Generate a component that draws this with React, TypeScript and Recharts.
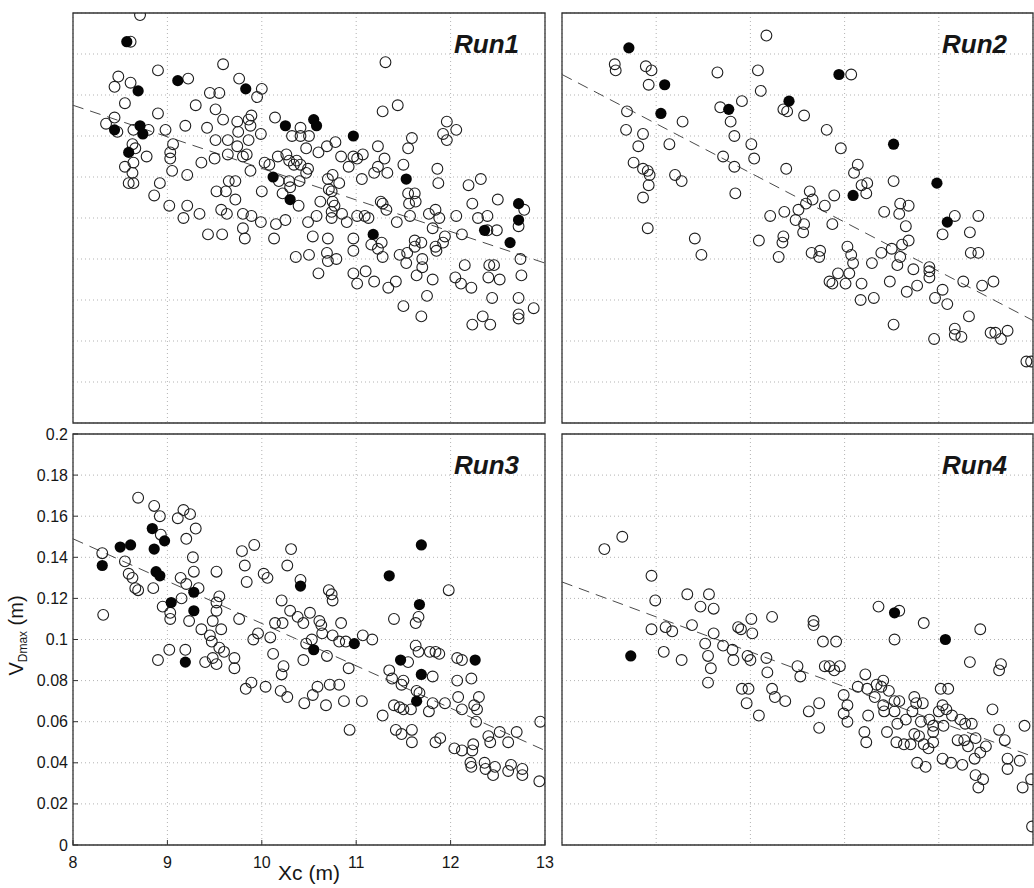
import { ScatterChart, Scatter, XAxis, YAxis, CartesianGrid, ReferenceLine, ReferenceArea } from 'recharts'

type Pt = [number, number]

const xTicks = [8, 9, 10, 11, 12, 13]
const yTicks = [0, 0.02, 0.04, 0.06, 0.08, 0.1, 0.12, 0.14, 0.16, 0.18, 0.2]

// Run1
const run1Open: Pt[] = [
  [8.71, 0.199], [8.61, 0.186], [9.59, 0.175], [11.31, 0.176], [8.9, 0.172], [8.48, 0.169], [8.44, 0.164], [8.61, 0.166],
  [9.22, 0.168], [9.76, 0.168], [10.0, 0.163], [9.95, 0.159], [9.45, 0.161], [9.55, 0.161], [8.55, 0.156], [9.3, 0.155],
  [9.51, 0.153], [9.59, 0.148], [8.9, 0.151], [11.28, 0.152], [11.44, 0.155], [8.44, 0.149], [8.35, 0.146], [8.47, 0.142],
  [8.64, 0.143], [8.8, 0.143], [8.98, 0.143], [9.19, 0.145], [9.42, 0.144], [9.51, 0.138], [9.74, 0.147], [9.75, 0.142],
  [9.86, 0.148], [9.89, 0.15], [9.88, 0.145], [9.86, 0.138], [9.64, 0.138], [9.74, 0.135], [9.99, 0.141], [10.14, 0.149],
  [10.32, 0.14], [10.41, 0.14], [10.41, 0.144], [10.5, 0.14], [10.47, 0.134], [10.6, 0.132], [10.69, 0.135], [10.78, 0.137],
  [10.84, 0.13], [10.97, 0.13], [11.07, 0.131], [11.01, 0.129], [11.23, 0.135], [11.3, 0.129], [11.59, 0.139], [11.55, 0.134],
  [11.96, 0.147], [12.06, 0.143], [11.92, 0.141], [11.96, 0.138], [11.5, 0.126], [11.86, 0.124], [11.87, 0.117], [12.19, 0.116],
  [12.32, 0.119], [12.5, 0.109], [12.78, 0.104], [12.72, 0.096], [12.39, 0.094], [12.49, 0.094], [12.74, 0.08], [12.75, 0.072],
  [12.72, 0.061], [12.72, 0.053], [12.72, 0.051], [12.88, 0.056], [12.23, 0.048], [12.34, 0.052], [12.42, 0.048], [12.44, 0.061],
  [12.4, 0.071], [12.52, 0.07], [12.46, 0.077], [12.41, 0.077], [12.15, 0.077], [12.05, 0.071], [12.11, 0.068], [12.22, 0.066],
  [12.12, 0.092], [12.23, 0.107], [12.06, 0.101], [12.29, 0.1], [12.39, 0.101], [11.81, 0.095], [11.84, 0.104], [11.88, 0.1],
  [11.77, 0.102], [11.94, 0.091], [11.92, 0.088], [11.84, 0.086], [11.85, 0.084], [11.62, 0.089], [11.69, 0.088], [11.62, 0.086],
  [11.54, 0.083], [11.46, 0.082], [11.7, 0.08], [11.7, 0.076], [11.64, 0.072], [11.53, 0.078], [11.81, 0.07], [11.75, 0.062],
  [11.69, 0.052], [11.5, 0.057], [11.42, 0.069], [11.34, 0.066], [11.56, 0.107], [11.62, 0.112], [11.55, 0.112], [11.63, 0.108],
  [11.57, 0.101], [11.43, 0.098], [11.28, 0.081], [11.23, 0.085], [11.16, 0.087], [11.27, 0.088], [11.19, 0.069], [11.1, 0.074],
  [11.01, 0.068], [10.97, 0.073], [10.97, 0.084], [10.97, 0.09], [11.09, 0.101], [11.13, 0.1], [11.01, 0.101], [10.9, 0.098],
  [11.26, 0.108], [11.28, 0.107], [11.32, 0.104], [11.19, 0.122], [11.23, 0.125], [11.33, 0.122], [11.06, 0.119], [10.92, 0.125],
  [10.75, 0.121], [10.7, 0.119], [10.82, 0.117], [10.71, 0.114], [10.74, 0.113], [10.75, 0.108], [10.77, 0.106], [10.74, 0.103],
  [10.74, 0.1], [10.85, 0.102], [10.62, 0.108], [10.58, 0.101], [10.49, 0.098], [10.54, 0.091], [10.7, 0.09], [10.79, 0.08],
  [10.69, 0.083], [10.7, 0.079], [10.6, 0.073], [10.5, 0.082], [10.36, 0.081], [10.39, 0.106], [10.22, 0.112], [10.18, 0.118],
  [10.29, 0.118], [10.3, 0.115], [10.4, 0.118], [10.47, 0.122], [10.49, 0.124], [10.41, 0.126], [10.34, 0.126], [10.26, 0.131],
  [10.17, 0.13], [10.03, 0.127], [10.08, 0.126], [10.29, 0.128], [10.37, 0.128], [10.25, 0.099], [10.15, 0.097], [10.13, 0.09],
  [9.99, 0.098], [10.0, 0.113], [9.88, 0.123], [9.84, 0.131], [9.8, 0.13], [9.64, 0.131], [9.5, 0.129], [9.36, 0.127],
  [9.21, 0.121], [9.05, 0.123], [9.03, 0.132], [9.03, 0.129], [9.06, 0.136], [8.92, 0.117], [8.86, 0.111], [9.02, 0.106],
  [9.21, 0.106], [9.17, 0.1], [9.34, 0.102], [9.52, 0.113], [9.62, 0.113], [9.65, 0.118], [9.72, 0.118], [9.72, 0.109],
  [9.57, 0.104], [9.63, 0.102], [9.8, 0.102], [9.89, 0.101], [9.8, 0.095], [9.82, 0.09], [9.43, 0.092], [9.58, 0.092],
  [8.66, 0.134], [8.63, 0.136], [8.78, 0.13], [8.64, 0.127], [8.55, 0.125], [8.63, 0.122], [8.59, 0.117], [8.64, 0.117],
]
const run1Filled: Pt[] = [
  [8.57, 0.186], [8.69, 0.162], [9.11, 0.167], [9.83, 0.163], [8.44, 0.143], [8.71, 0.145], [8.74, 0.141], [8.59, 0.132],
  [10.25, 0.145], [10.55, 0.148], [10.58, 0.145], [10.97, 0.14], [10.12, 0.12], [10.3, 0.109], [11.53, 0.119], [11.18, 0.092],
  [12.36, 0.094], [12.72, 0.107], [12.72, 0.099], [12.63, 0.088],
]
const run1Trend: Pt[] = [[8, 0.155], [13, 0.078]]

// Run2
const run2Open: Pt[] = [
  [10.17, 0.189], [8.56, 0.175], [8.57, 0.172], [8.89, 0.174], [8.95, 0.172], [8.92, 0.165], [8.69, 0.152], [8.68, 0.143],
  [8.86, 0.141], [8.81, 0.135], [9.14, 0.136], [9.28, 0.147], [8.76, 0.127], [8.86, 0.124], [8.91, 0.123], [8.93, 0.121],
  [8.92, 0.116], [8.86, 0.11], [9.2, 0.121], [9.27, 0.118], [8.91, 0.095], [9.41, 0.09], [9.48, 0.082], [9.65, 0.171],
  [10.08, 0.172], [10.11, 0.162], [9.91, 0.157], [9.68, 0.154], [9.79, 0.147], [9.83, 0.14], [9.71, 0.13], [9.83, 0.125],
  [9.84, 0.112], [10.01, 0.136], [10.04, 0.129], [10.35, 0.153], [10.39, 0.152], [10.57, 0.15], [10.38, 0.124], [10.21, 0.101],
  [10.36, 0.103], [10.09, 0.089], [10.35, 0.091], [10.34, 0.088], [10.3, 0.081], [10.48, 0.099], [10.51, 0.104], [10.57, 0.097],
  [10.56, 0.093], [10.59, 0.107], [10.63, 0.113], [10.66, 0.109], [10.79, 0.106], [10.65, 0.083], [10.74, 0.084], [10.73, 0.081],
  [10.81, 0.143], [11.07, 0.17], [10.96, 0.134], [10.89, 0.111], [10.87, 0.097], [11.14, 0.126], [11.1, 0.122], [11.18, 0.116],
  [11.24, 0.117], [11.23, 0.112], [11.03, 0.086], [11.07, 0.082], [11.09, 0.078], [11.05, 0.073], [10.93, 0.073], [10.84, 0.069],
  [10.87, 0.068], [11.01, 0.068], [11.18, 0.068], [11.17, 0.06], [11.31, 0.061], [11.29, 0.078], [11.39, 0.083], [11.42, 0.103],
  [11.52, 0.118], [11.59, 0.107], [11.68, 0.106], [11.58, 0.102], [11.65, 0.096], [11.68, 0.089], [11.61, 0.087], [11.5, 0.085],
  [11.59, 0.081], [11.56, 0.077], [11.73, 0.075], [11.48, 0.069], [11.66, 0.064], [11.77, 0.067], [11.52, 0.048], [12.17, 0.101],
  [12.42, 0.101], [12.04, 0.092], [12.33, 0.093], [12.34, 0.083], [12.42, 0.083], [11.9, 0.076], [11.9, 0.074], [11.9, 0.071],
  [12.04, 0.065], [11.96, 0.061], [12.09, 0.058], [12.26, 0.069], [12.46, 0.067], [12.58, 0.069], [12.32, 0.052], [12.17, 0.046],
  [12.17, 0.043], [12.24, 0.042], [11.95, 0.041], [12.55, 0.044], [12.6, 0.044], [12.73, 0.045], [12.66, 0.041], [12.93, 0.03],
  [12.98, 0.03],
]
const run2Filled: Pt[] = [
  [8.71, 0.183], [9.09, 0.165], [9.05, 0.151], [9.77, 0.153], [10.41, 0.157], [10.94, 0.17], [11.09, 0.111], [11.52, 0.136],
  [11.98, 0.117], [12.09, 0.098],
]
const run2Trend: Pt[] = [[8, 0.17], [13, 0.05]]

// Run3
const run3Open: Pt[] = [
  [8.69, 0.169], [8.86, 0.165], [8.92, 0.16], [9.17, 0.163], [9.24, 0.161], [9.11, 0.159], [9.2, 0.149], [9.3, 0.154],
  [8.93, 0.151], [8.31, 0.142], [8.55, 0.138], [8.59, 0.132], [8.63, 0.13], [8.66, 0.125], [8.69, 0.124], [8.85, 0.125],
  [8.32, 0.112], [9.14, 0.13], [9.2, 0.127], [9.27, 0.14], [9.28, 0.133], [9.33, 0.125], [9.15, 0.12], [8.95, 0.116],
  [9.03, 0.113], [9.03, 0.11], [9.23, 0.109], [9.52, 0.133], [9.55, 0.121], [9.52, 0.118], [9.52, 0.114], [9.48, 0.109],
  [9.57, 0.105], [9.36, 0.105], [9.45, 0.102], [9.47, 0.099], [9.55, 0.096], [9.6, 0.094], [9.48, 0.091], [9.52, 0.088],
  [9.4, 0.089], [9.02, 0.095], [9.19, 0.095], [8.9, 0.09], [9.71, 0.091], [9.71, 0.086], [9.76, 0.11], [9.79, 0.143],
  [9.82, 0.136], [9.84, 0.128], [9.92, 0.146], [10.02, 0.132], [10.06, 0.13], [9.96, 0.103], [9.91, 0.1], [10.09, 0.101],
  [10.12, 0.093], [10.23, 0.087], [10.21, 0.083], [10.14, 0.108], [10.22, 0.108], [10.21, 0.119], [10.27, 0.136], [10.31, 0.144],
  [10.3, 0.114], [10.38, 0.111], [10.41, 0.129], [10.44, 0.108], [10.51, 0.113], [10.47, 0.098], [10.53, 0.1], [10.44, 0.09],
  [10.61, 0.109], [10.63, 0.107], [10.64, 0.103], [10.71, 0.124], [10.74, 0.122], [10.75, 0.119], [10.75, 0.102], [10.69, 0.092],
  [10.84, 0.108], [10.82, 0.099], [10.89, 0.099], [11.07, 0.102], [11.17, 0.1], [10.92, 0.086], [10.59, 0.077], [10.72, 0.078],
  [10.82, 0.078], [10.54, 0.073], [10.45, 0.069], [10.68, 0.068], [10.27, 0.072], [10.2, 0.075], [10.04, 0.077], [9.89, 0.079],
  [9.83, 0.076], [10.87, 0.07], [11.06, 0.07], [10.93, 0.056], [11.28, 0.063], [11.35, 0.085], [11.38, 0.081], [11.4, 0.11],
  [11.4, 0.068], [11.46, 0.067], [11.5, 0.066], [11.48, 0.078], [11.5, 0.08], [11.55, 0.089], [11.42, 0.056], [11.48, 0.054],
  [11.58, 0.066], [11.59, 0.056], [11.59, 0.05], [11.63, 0.097], [11.66, 0.094], [11.63, 0.108], [11.66, 0.111], [11.64, 0.075],
  [11.67, 0.074], [11.77, 0.065], [11.81, 0.069], [11.81, 0.082], [11.78, 0.094], [11.84, 0.094], [11.88, 0.093], [11.84, 0.05],
  [11.89, 0.052], [11.94, 0.069], [11.98, 0.124], [12.07, 0.091], [12.12, 0.09], [12.07, 0.08], [12.08, 0.072], [12.12, 0.066],
  [12.22, 0.081], [12.25, 0.068], [12.28, 0.066], [12.3, 0.072], [12.27, 0.06], [12.04, 0.047], [12.12, 0.046], [12.23, 0.046],
  [12.24, 0.049], [12.21, 0.04], [12.22, 0.038], [12.36, 0.04], [12.37, 0.037], [12.45, 0.034], [12.4, 0.053], [12.42, 0.05],
  [12.52, 0.055], [12.47, 0.038], [12.61, 0.05], [12.7, 0.055], [12.61, 0.036], [12.64, 0.039], [12.76, 0.037], [12.76, 0.034],
  [12.94, 0.031], [12.95, 0.06],
]
const run3Filled: Pt[] = [
  [8.84, 0.154], [8.97, 0.148], [8.86, 0.144], [8.5, 0.145], [8.61, 0.146], [8.31, 0.136], [8.88, 0.133], [8.92, 0.131],
  [9.28, 0.123], [9.04, 0.118], [9.28, 0.114], [9.19, 0.089], [10.41, 0.126], [10.55, 0.095], [10.98, 0.098], [11.35, 0.131],
  [11.47, 0.09], [11.67, 0.117], [11.69, 0.146], [11.69, 0.083], [11.64, 0.07], [12.26, 0.09],
]
const run3Trend: Pt[] = [[8, 0.149], [13, 0.046]]

// Run4
const run4Open: Pt[] = [
  [8.45, 0.144], [8.64, 0.15], [8.95, 0.131], [8.99, 0.119], [8.95, 0.105], [9.1, 0.106], [9.17, 0.104], [9.08, 0.094],
  [9.27, 0.09], [9.33, 0.122], [9.56, 0.122], [9.47, 0.116], [9.61, 0.115], [9.38, 0.107], [9.61, 0.103], [9.52, 0.098],
  [9.55, 0.092], [9.58, 0.086], [9.55, 0.079], [9.71, 0.097], [9.81, 0.095], [9.82, 0.09], [9.87, 0.106], [9.9, 0.105],
  [10.01, 0.11], [10.02, 0.103], [9.97, 0.092], [10.0, 0.09], [10.23, 0.111], [10.17, 0.091], [10.18, 0.084], [9.91, 0.076],
  [9.98, 0.076], [9.96, 0.069], [10.09, 0.063], [10.23, 0.076], [10.26, 0.072], [10.37, 0.07], [10.5, 0.087], [10.53, 0.082],
  [10.62, 0.065], [10.73, 0.069], [10.73, 0.057], [10.67, 0.109], [10.67, 0.107], [10.77, 0.099], [10.91, 0.099], [10.79, 0.087],
  [10.84, 0.087], [10.89, 0.085], [10.95, 0.087], [10.99, 0.073], [11.03, 0.068], [10.99, 0.064], [11.03, 0.06], [11.22, 0.083],
  [11.14, 0.077], [11.24, 0.076], [11.32, 0.072], [11.34, 0.078], [11.41, 0.08], [11.39, 0.077], [11.25, 0.063], [11.21, 0.055],
  [11.23, 0.05], [11.36, 0.116], [11.58, 0.114], [11.53, 0.1], [11.84, 0.108], [12.44, 0.105], [12.33, 0.089], [12.66, 0.088],
  [12.64, 0.085], [11.47, 0.075], [11.53, 0.07], [11.58, 0.07], [11.41, 0.068], [11.42, 0.065], [11.53, 0.065], [11.45, 0.055],
  [11.56, 0.059], [11.55, 0.05], [11.63, 0.049], [11.7, 0.049], [11.65, 0.061], [11.74, 0.072], [11.76, 0.069], [11.83, 0.069],
  [11.72, 0.065], [11.81, 0.06], [11.74, 0.054], [11.79, 0.053], [11.84, 0.049], [11.89, 0.047], [11.77, 0.04], [11.86, 0.038],
  [11.9, 0.061], [11.94, 0.058], [11.94, 0.055], [11.94, 0.05], [12.0, 0.065], [12.04, 0.068], [12.02, 0.076], [12.1, 0.076],
  [12.08, 0.066], [12.14, 0.063], [12.05, 0.058], [12.23, 0.061], [12.28, 0.059], [12.35, 0.059], [12.04, 0.042], [12.13, 0.04],
  [12.25, 0.039], [12.2, 0.051], [12.27, 0.051], [12.31, 0.048], [12.39, 0.052], [12.44, 0.045], [12.38, 0.042], [12.5, 0.048],
  [12.57, 0.066], [12.64, 0.056], [12.7, 0.051], [12.39, 0.034], [12.47, 0.032], [12.42, 0.028], [12.73, 0.042], [12.73, 0.037],
  [12.86, 0.041], [12.91, 0.058], [12.89, 0.028], [12.98, 0.032], [12.99, 0.009],
]
const run4Filled: Pt[] = [[8.73, 0.092], [11.53, 0.113], [12.07, 0.1]]
const run4Trend: Pt[] = [[8, 0.128], [13, 0.043]]

const FONT = '"Liberation Sans", Arial, Helvetica, sans-serif'
const FRAME = '#333'
const TEXT = '#161616'

const toXY = (pts: Pt[]) => pts.map(([x, y]) => ({ x, y }))

function OpenDot(props: any) {
  const { cx, cy } = props
  if (cx == null || cy == null) return null
  return <circle cx={cx} cy={cy} r={5.4} fill="none" stroke="#1e1e1e" strokeWidth={1.1} />
}

function FilledDot(props: any) {
  const { cx, cy } = props
  if (cx == null || cy == null) return null
  return <circle cx={cx} cy={cy} r={5.6} fill="#050505" />
}

// inward MATLAB style tick marks, with optional label
function TickMark(props: any) {
  const { x, y, payload, side, show } = props
  const len = 5
  let line = null
  let label = null
  if (side === 'bottom') {
    line = <line x1={x} y1={y} x2={x} y2={y - len} stroke={FRAME} />
    if (show)
      label = (
        <text x={x} y={y + 23} textAnchor="middle" fontSize={16} fontFamily={FONT} fill={TEXT}>
          {payload.value}
        </text>
      )
  } else if (side === 'top') {
    line = <line x1={x} y1={y} x2={x} y2={y + len} stroke={FRAME} />
  } else if (side === 'left') {
    line = <line x1={x} y1={y} x2={x + len} y2={y} stroke={FRAME} />
    if (show)
      label = (
        <text x={x - 5} y={y + 5.5} textAnchor="end" fontSize={16} fontFamily={FONT} fill={TEXT}>
          {payload.value}
        </text>
      )
  } else {
    line = <line x1={x} y1={y} x2={x - len} y2={y} stroke={FRAME} />
  }
  return (
    <g>
      {line}
      {label}
    </g>
  )
}

function YLabel(props: any) {
  const vb = props.viewBox || { x: 0, y: 0, width: 73, height: 411 }
  const cx = vb.x + 23
  const cy = vb.y + vb.height / 2 - 4
  return (
    <text x={cx} y={cy} transform={`rotate(-90 ${cx} ${cy})`} textAnchor="middle" fontSize={20} fontFamily={FONT} fill={TEXT}>
      V<tspan fontSize={12} dy={4}>Dmax</tspan>
      <tspan dy={-4}> (m)</tspan>
    </text>
  )
}

interface PanelProps {
  name: string
  open: Pt[]
  filled: Pt[]
  trend: Pt[]
  left: number
  top: number
  width: number
  height: number
  labels?: boolean
}

function Panel({ name, open, filled, trend, left, top, width, height, labels }: PanelProps) {
  const padT = 10
  const padR = 12
  const padL = labels ? 0 : 10
  const padB = labels ? 0 : 10
  const axisW = labels ? 73 : 0
  const axisH = labels ? 43 : 0
  const chartW = width + axisW + padL + padR
  const chartH = height + axisH + padT + padB
  const [a, b] = toXY(trend)

  return (
    <div style={{ position: 'absolute', left: left - axisW - padL, top: top - padT, width: chartW, height: chartH }}>
      <ScatterChart width={chartW} height={chartH} margin={{ top: padT, right: padR, bottom: padB, left: padL }}>
        <CartesianGrid stroke="#b3b3b3" strokeDasharray="1 3" />
        <XAxis
          type="number"
          dataKey="x"
          domain={[8, 13]}
          ticks={xTicks}
          interval={0}
          allowDataOverflow
          height={axisH}
          tick={<TickMark side="bottom" show={labels} />}
          tickSize={0}
          tickMargin={0}
          axisLine={false}
          tickLine={false}
          label={labels ? { value: 'Xc (m)', position: 'insideBottom', offset: 8, fontSize: 21, fill: TEXT, fontFamily: FONT } : undefined}
        />
        <XAxis
          xAxisId="top"
          orientation="top"
          type="number"
          domain={[8, 13]}
          ticks={xTicks}
          interval={0}
          height={0}
          tick={<TickMark side="top" />}
          tickSize={0}
          tickMargin={0}
          axisLine={false}
          tickLine={false}
        />
        <YAxis
          type="number"
          dataKey="y"
          domain={[0, 0.2]}
          ticks={yTicks}
          interval={0}
          allowDataOverflow
          width={axisW}
          tick={<TickMark side="left" show={labels} />}
          tickSize={0}
          tickMargin={0}
          axisLine={false}
          tickLine={false}
          label={labels ? { content: (p: any) => <YLabel viewBox={p.viewBox} /> } : undefined}
        />
        <YAxis
          yAxisId="right"
          orientation="right"
          type="number"
          domain={[0, 0.2]}
          ticks={yTicks}
          interval={0}
          width={0}
          tick={<TickMark side="right" />}
          tickSize={0}
          tickMargin={0}
          axisLine={false}
          tickLine={false}
        />
        <ReferenceLine segment={[a, b]} stroke="#4a4a4a" strokeWidth={1} strokeDasharray="11 7" />
        <Scatter data={toXY(open)} shape={OpenDot} isAnimationActive={false} />
        <Scatter data={toXY(filled)} shape={FilledDot} isAnimationActive={false} />
        <ReferenceArea x1={8} x2={13} y1={0} y2={0.2} fill="none" fillOpacity={0} stroke={FRAME} strokeWidth={1.3} ifOverflow="visible" />
      </ScatterChart>
      <div
        style={{
          position: 'absolute',
          right: padR + 26,
          top: padT + 18,
          fontFamily: FONT,
          fontWeight: 'bold',
          fontStyle: 'italic',
          fontSize: 26,
          lineHeight: 1,
          color: TEXT,
        }}
      >
        {name}
      </div>
    </div>
  )
}

export default function App() {
  return (
    <div style={{ position: 'absolute', left: 0, top: 0, width: 1034, height: 888, background: '#fff' }}>
      <Panel name="Run1" open={run1Open} filled={run1Filled} trend={run1Trend} left={73} top={13} width={472} height={410} />
      <Panel name="Run2" open={run2Open} filled={run2Filled} trend={run2Trend} left={562} top={13} width={471} height={410} />
      <Panel name="Run3" open={run3Open} filled={run3Filled} trend={run3Trend} left={73} top={434} width={472} height={411} labels />
      <Panel name="Run4" open={run4Open} filled={run4Filled} trend={run4Trend} left={562} top={434} width={471} height={411} />
    </div>
  )
}
